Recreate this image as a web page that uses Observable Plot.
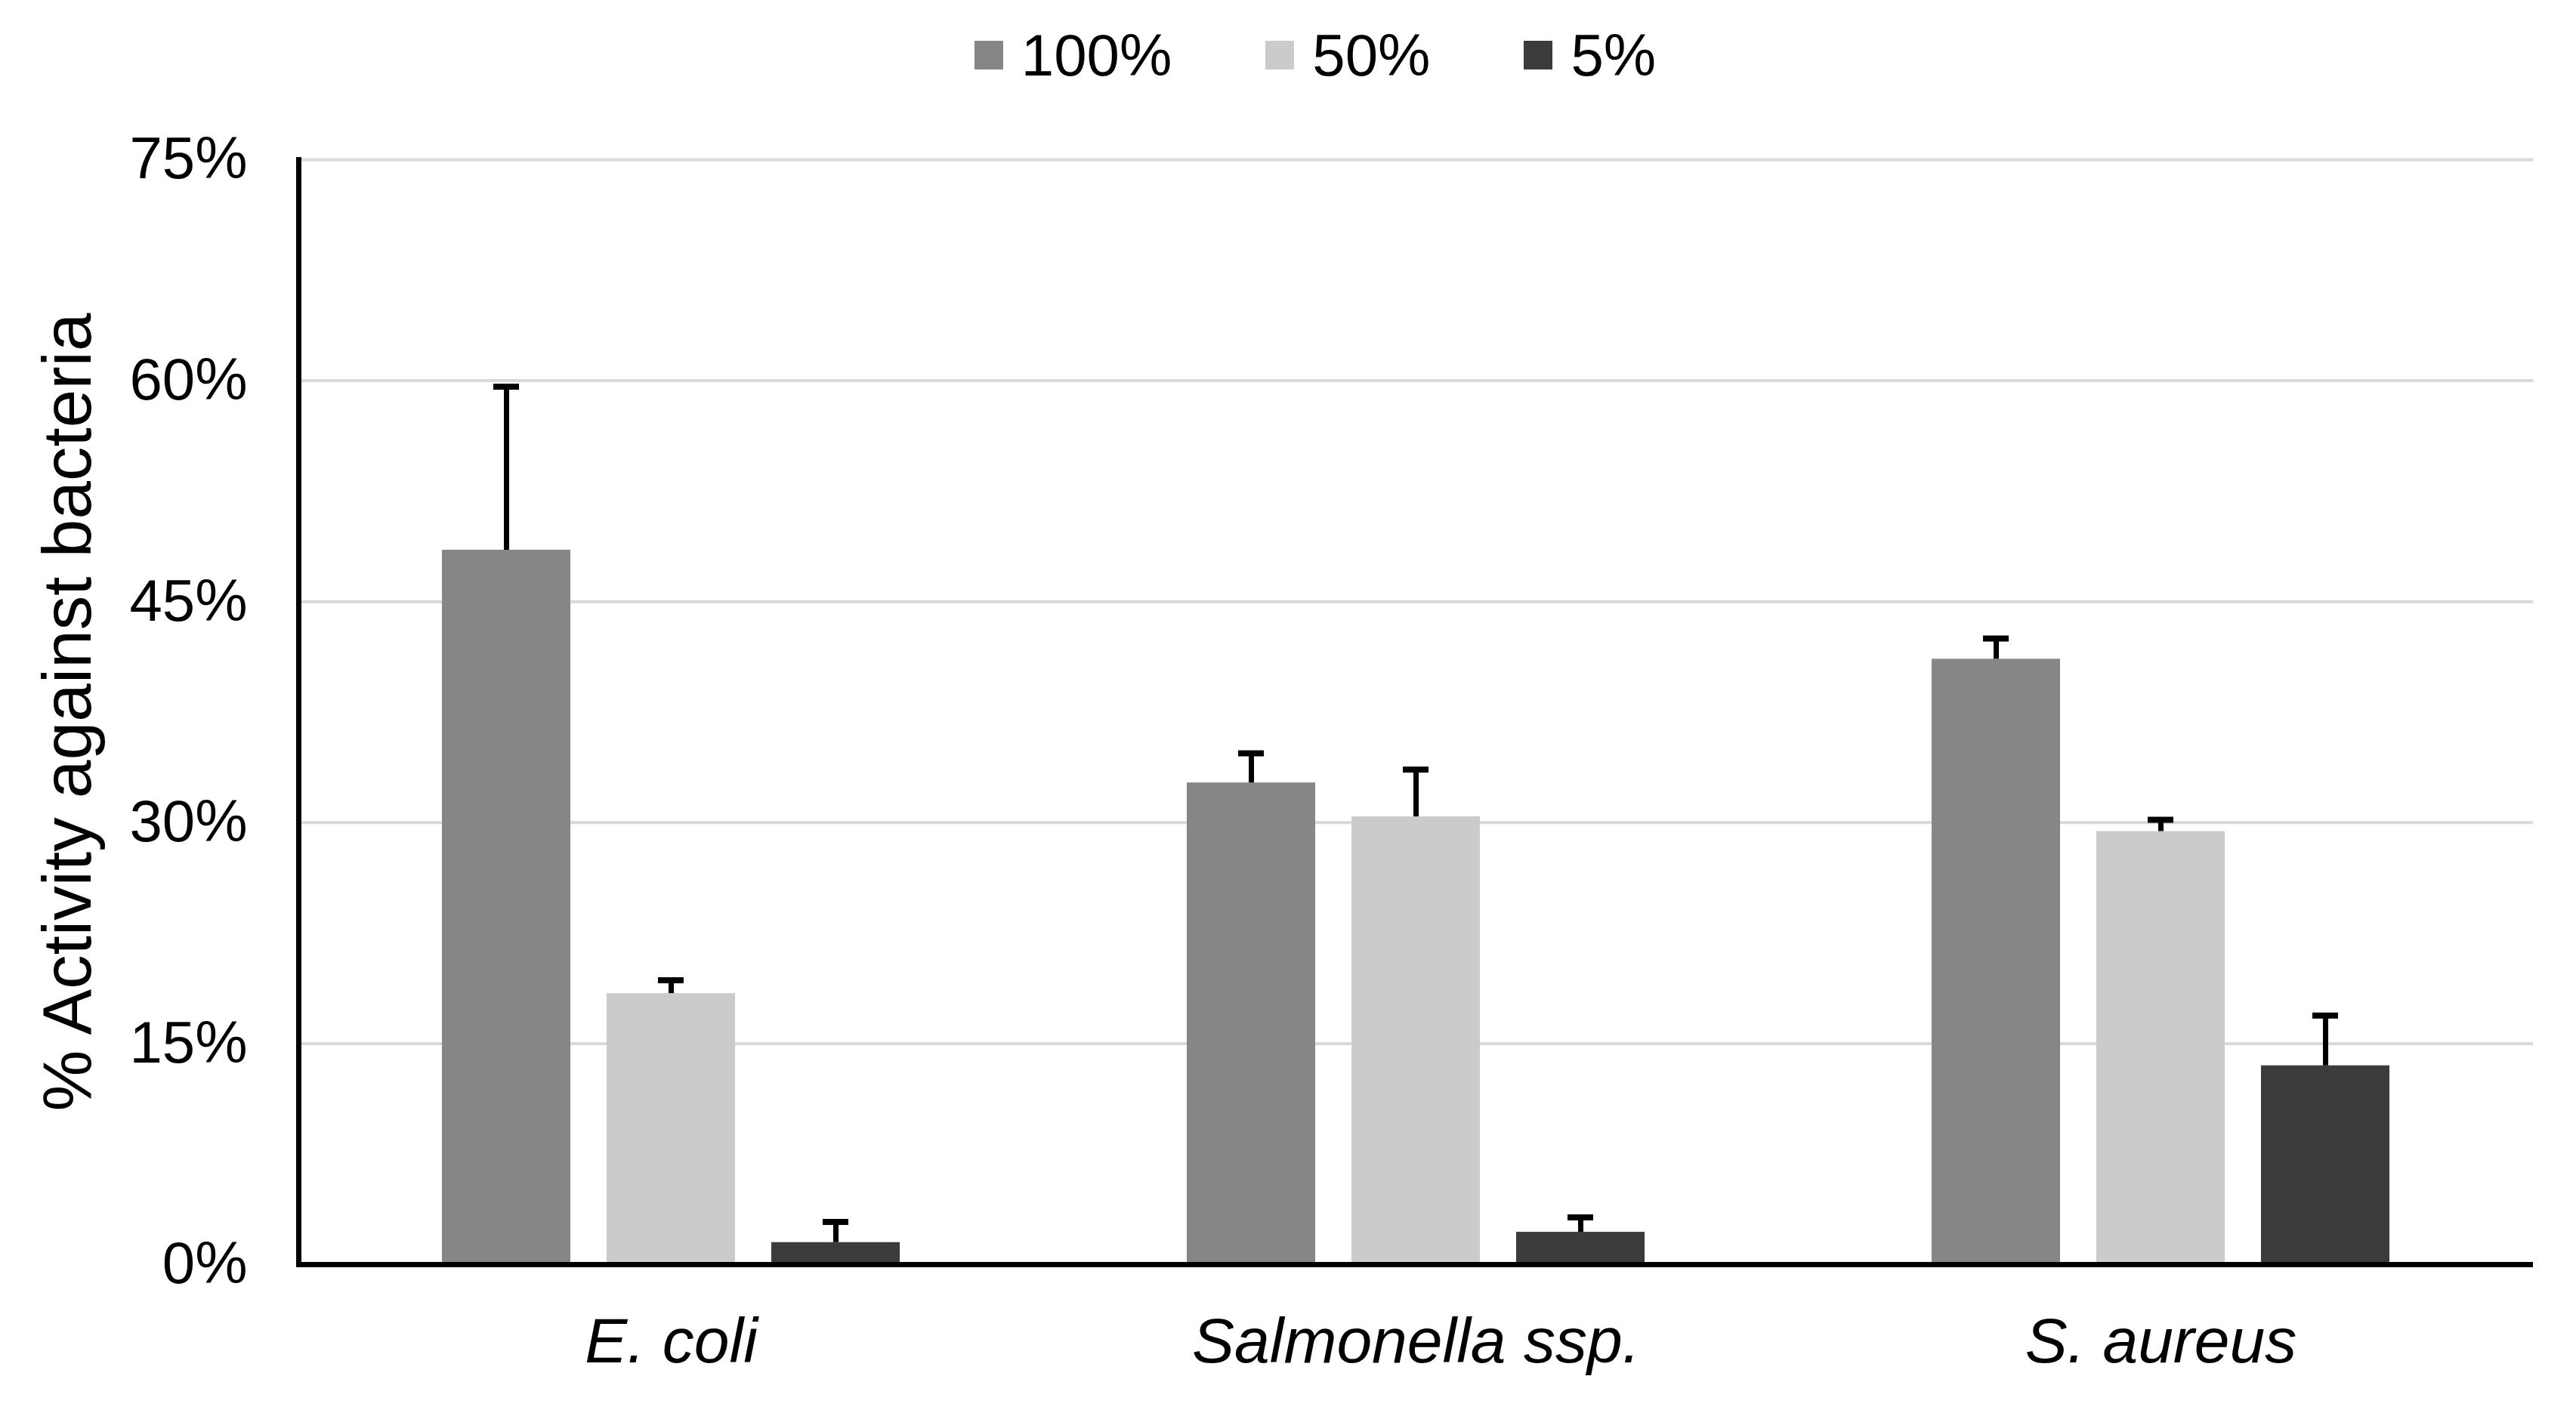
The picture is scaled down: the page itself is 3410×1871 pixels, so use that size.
<!DOCTYPE html>
<html>
<head>
<meta charset="utf-8">
<script src="https://cdn.jsdelivr.net/npm/d3@7"></script>
<script src="https://cdn.jsdelivr.net/npm/@observablehq/plot@0.6"></script>
<style>
  html, body { margin: 0; padding: 0; background: #fff; }
  body { width: 3410px; height: 1871px; overflow: hidden; font-family: "Liberation Sans", Arial, sans-serif; }
  #legend { height: 130px; box-sizing: border-box; padding-top: 16px; padding-left: 72px; display: flex; justify-content: center; align-items: center; gap: 0; }
  .item { display: flex; align-items: center; margin: 0 62px; font-size: 78px; color: #000; }
  .sw { width: 38px; height: 38px; margin-right: 24px; }
</style>
</head>
<body>
<div id="legend"></div>
<div id="chart"></div>
<script>
const categories = ["E. coli", "Salmonella ssp.", "S. aureus"];
const series = ["100%", "50%", "5%"];
const values100 = [48.5, 32.7, 41.1];
const values50 = [18.4, 30.4, 29.4];
const values5 = [1.5, 2.2, 13.5];
const errors100 = [11.1, 2.0, 1.4];
const errors50 = [0.9, 3.2, 0.8];
const errors5 = [1.4, 1.0, 3.4];
const colors = ["#868686", "#cbcbcb", "#3b3c3a"];
const yTicks = [0, 15, 30, 45, 60, 75];
const yLabel = "% Activity against bacteria";

const valueSets = [values100, values50, values5];
const errorSets = [errors100, errors50, errors5];
const data = [];
categories.forEach((c, i) => {
  series.forEach((s, j) => {
    data.push({category: c, series: s, value: valueSets[j][i], err: errorSets[j][i]});
  });
});

// legend
const legend = document.getElementById("legend");
series.forEach((s, j) => {
  const it = document.createElement("div");
  it.className = "item";
  const sw = document.createElement("div");
  sw.className = "sw";
  sw.style.background = colors[j];
  const t = document.createElement("span");
  t.textContent = s;
  it.appendChild(sw); it.appendChild(t);
  legend.appendChild(it);
});

const chart = Plot.plot({
  width: 3410,
  height: 1741,
  marginLeft: 394,
  marginRight: 56,
  marginTop: 81,
  marginBottom: 197,
  style: {fontFamily: "Liberation Sans, Arial, sans-serif", color: "#000", background: "#fff"},
  fx: {domain: categories, padding: 0},
  x: {domain: series, paddingInner: 0.22, paddingOuter: 0.87, axis: null},
  y: {domain: [0, 75]},
  color: {domain: series, range: colors},
  marks: [
    Plot.gridY(yTicks, {stroke: "#d9d9d9", strokeOpacity: 1, strokeWidth: 4}),
    Plot.barY(data, {fx: "category", x: "series", y: "value", fill: "series"}),
    Plot.ruleX(data, {fx: "category", x: "series", y1: "value", y2: d => d.value + d.err, stroke: "#000", strokeWidth: 7}),
    Plot.tickY(data, {fx: "category", x: "series", y: d => d.value + d.err, stroke: "#000", strokeWidth: 8, insetLeft: 68, insetRight: 68}),
    Plot.ruleY([0], {stroke: "#000", strokeWidth: 7}),
    Plot.frame({anchor: "left", facetAnchor: "left", stroke: "#000", strokeWidth: 7}),
    Plot.axisY({ticks: yTicks, tickFormat: d => d + "%", tickSize: 0, tickPadding: 68, fontSize: 78, label: null, fill: "#000"}),
    Plot.axisY({ticks: [], tickSize: 0, label: yLabel, labelAnchor: "center", labelArrow: "none", labelOffset: 340, fontSize: 91, fill: "#000"}),
    Plot.axisFx({anchor: "bottom", tickSize: 0, tickPadding: 70, fontSize: 84, fontStyle: "italic", label: null, fill: "#000"})
  ]
});
document.getElementById("chart").appendChild(chart);
</script>
</body>
</html>
